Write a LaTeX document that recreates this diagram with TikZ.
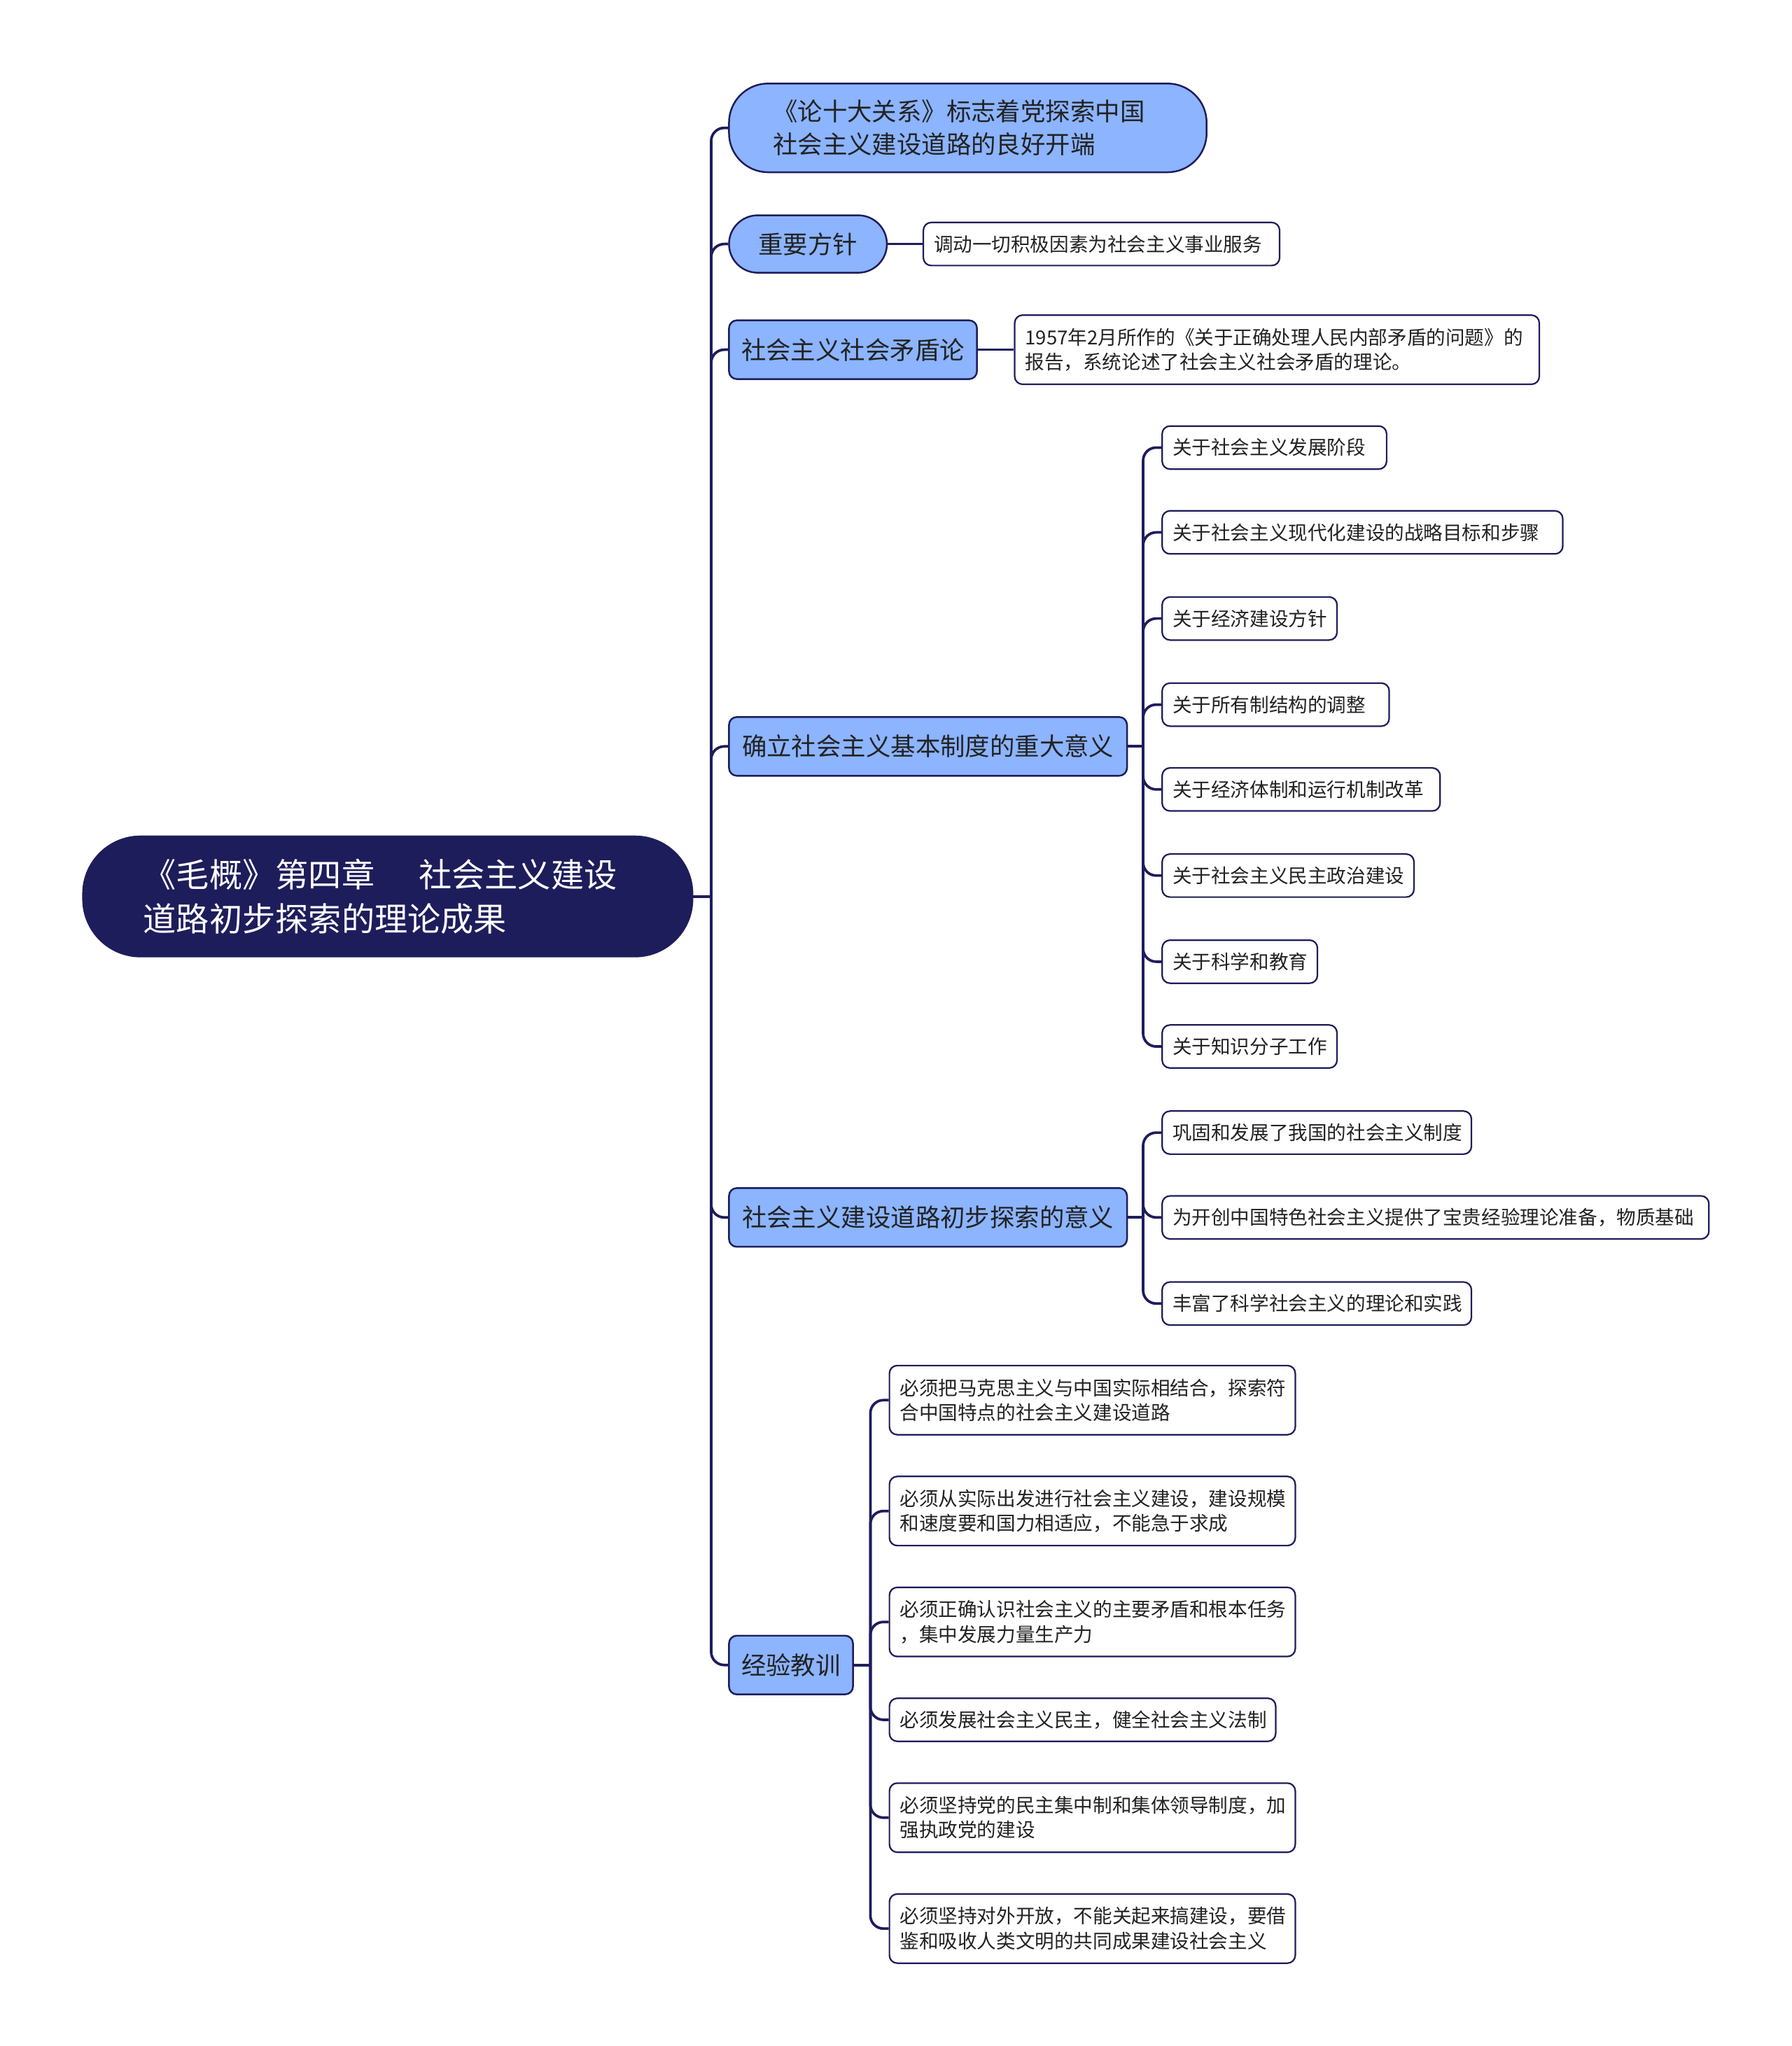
\documentclass[tikz,border=0pt]{standalone}
\usepackage{fontspec}
\setmainfont{Noto Sans CJK SC}
\definecolor{navy}{HTML}{1E1D5B}
\definecolor{lblue}{HTML}{8CB4FF}
\definecolor{txtc}{HTML}{222222}
\begin{document}
\begin{tikzpicture}[x=0.75pt,y=-0.75pt,
  rootbox/.style={draw=navy, fill=navy, text=white, line width=1pt, rounded corners=33pt,
    anchor=west, align=left, text width=281pt, minimum height=69pt, inner xsep=34.6pt,
    font=\fontsize{19pt}{25.5pt}\selectfont},
  topicbox/.style={draw=navy, fill=lblue, text=txtc, line width=1pt, rounded corners=4.5pt,
    anchor=west, align=left, minimum height=33.75pt, inner xsep=6pt,
    font=\fontsize{14.25pt}{18.75pt}\selectfont},
  leafbox/.style={draw=navy, fill=white, text=txtc, line width=0.9pt, rounded corners=4.5pt,
    anchor=west, align=left, minimum height=24.75pt, inner xsep=6pt,
    font=\fontsize{11.1pt}{14.25pt}\selectfont},
  twoline/.style={minimum height=39.75pt},
  conn/.style={draw=navy, line width=1.5pt, rounded corners=7.5pt},
]
\useasboundingbox (0,0) rectangle (1373,1568);

% root
\node[rootbox] (root) at (63,687) {《毛概》第四章　 社会主义建设\\道路初步探索的理论成果};

% level 1
\node[topicbox, rounded corners=22.5pt, text width=224pt, inner xsep=25.25pt, minimum height=51pt] (n1) at (558,98)
  {《论十大关系》标志着党探索中国\\社会主义建设道路的良好开端};
\node[topicbox, rounded corners=16.5pt, minimum width=90.75pt, minimum height=33pt] (n2) at (558,187) {重要方针};
\node[topicbox, minimum width=142.5pt] (n3) at (558,268) {社会主义社会矛盾论};
\node[topicbox, minimum width=228.75pt] (n4) at (558,572) {确立社会主义基本制度的重大意义};
\node[topicbox, minimum width=228.75pt] (n5) at (558,933) {社会主义建设道路初步探索的意义};
\node[topicbox, minimum width=71.25pt] (n6) at (558,1276) {经验教训};

% level 2 (text width = box width - 12pt)
\node[leafbox, text width=192.75pt] (l21) at (707,187) {调动一切积极因素为社会主义事业服务};
\node[leafbox, twoline, text width=289.5pt] (l31) at (777,268)
  {1957年2月所作的《关于正确处理人民内部矛盾的问题》的\\报告，系统论述了社会主义社会矛盾的理论。};

\node[leafbox, text width=117pt] (a) at (890,343) {关于社会主义发展阶段};
\node[leafbox, text width=218.25pt] (b) at (890,408) {关于社会主义现代化建设的战略目标和步骤};
\node[leafbox, text width=88.5pt] (c) at (890,474) {关于经济建设方针};
\node[leafbox, text width=118.5pt] (d) at (890,540) {关于所有制结构的调整};
\node[leafbox, text width=147.75pt] (e) at (890,605) {关于经济体制和运行机制改革};
\node[leafbox, text width=132.75pt] (f) at (890,671) {关于社会主义民主政治建设};
\node[leafbox, text width=77.25pt] (g) at (890,737) {关于科学和教育};
\node[leafbox, text width=88.5pt] (h) at (890,802) {关于知识分子工作};

\node[leafbox, text width=165.75pt] (i) at (890,868) {巩固和发展了我国的社会主义制度};
\node[leafbox, text width=302.25pt] (j) at (890,933) {为开创中国特色社会主义提供了宝贵经验理论准备，物质基础};
\node[leafbox, text width=165.75pt] (k) at (890,999) {丰富了科学社会主义的理论和实践};

\node[leafbox, twoline, text width=221.25pt] (l) at (681,1073) {必须把马克思主义与中国实际相结合，探索符\\合中国特点的社会主义建设道路};
\node[leafbox, twoline, text width=221.25pt] (m) at (681,1158) {必须从实际出发进行社会主义建设，建设规模\\和速度要和国力相适应，不能急于求成};
\node[leafbox, twoline, text width=221.25pt] (n) at (681,1243) {必须正确认识社会主义的主要矛盾和根本任务\\，集中发展力量生产力};
\node[leafbox, text width=210pt] (o) at (681,1318) {必须发展社会主义民主，健全社会主义法制};
\node[leafbox, twoline, text width=221.25pt] (p) at (681,1393) {必须坚持党的民主集中制和集体领导制度，加\\强执政党的建设};
\node[leafbox, twoline, text width=221.25pt] (q) at (681,1478) {必须坚持对外开放，不能关起来搞建设，要借\\鉴和吸收人类文明的共同成果建设社会主义};

% connectors
\coordinate (T) at (545,687);
\draw[conn] (root.east) -- (T);
\foreach \c in {n1,n2,n3,n4,n5,n6} \draw[conn] (T) |- (\c.west);

\draw[conn] (n2.east) -- (l21.west);
\draw[conn] (n3.east) -- (l31.west);

\coordinate (S4) at (876,572);
\draw[conn] (n4.east) -- (S4);
\foreach \c in {a,b,c,d,e,f,g,h} \draw[conn] (S4) |- (\c.west);

\coordinate (S5) at (876,933);
\draw[conn] (n5.east) -- (S5);
\foreach \c in {i,j,k} \draw[conn] (S5) |- (\c.west);

\coordinate (S6) at (667,1276);
\draw[conn] (n6.east) -- (S6);
\foreach \c in {l,m,n,o,p,q} \draw[conn] (S6) |- (\c.west);
\end{tikzpicture}
\end{document}
